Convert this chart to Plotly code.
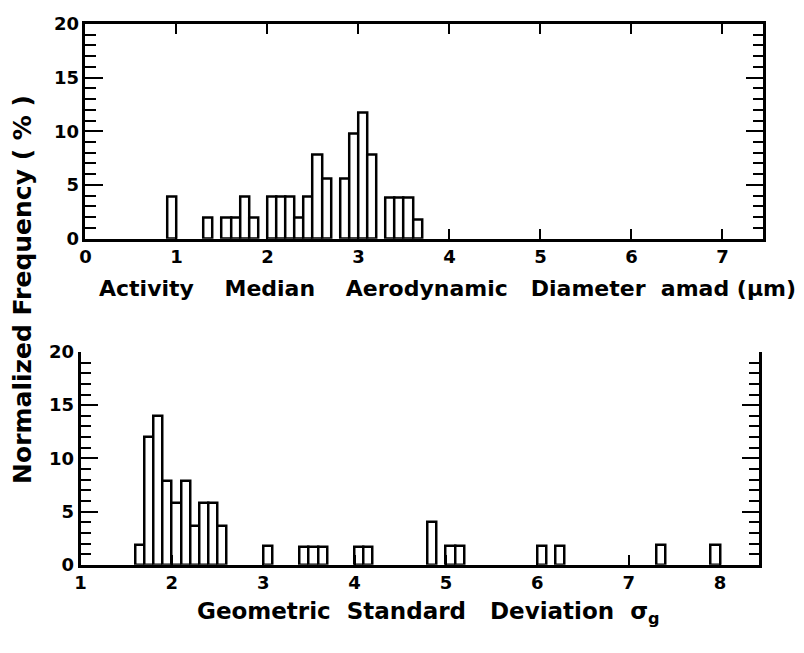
import plotly.graph_objects as go

# ---- data ----
amad_bins = [0.95, 1.35, 1.55, 1.65, 1.75, 1.85, 2.05, 2.15, 2.25, 2.35, 2.45,
             2.55, 2.65, 2.85, 2.95, 3.05, 3.15, 3.35, 3.45, 3.55, 3.65]
amad_freq = [3.9, 1.9, 1.9, 1.9, 3.9, 1.9, 3.9, 3.9, 3.9, 1.9, 3.9,
             7.8, 5.6, 5.6, 9.8, 11.7, 7.8, 3.8, 3.8, 3.8, 1.8]

gsd_bins = [1.65, 1.75, 1.85, 1.95, 2.05, 2.15, 2.25, 2.35, 2.45, 2.55,
            3.05, 3.45, 3.55, 3.65, 4.05, 4.15, 4.85, 5.05, 5.15,
            6.05, 6.25, 7.35, 7.95]
gsd_freq = [1.9, 12.0, 14.0, 7.9, 5.8, 7.9, 3.7, 5.8, 5.8, 3.7,
            1.8, 1.7, 1.7, 1.7, 1.7, 1.7, 4.0, 1.8, 1.8,
            1.8, 1.8, 1.9, 1.9]

amad_ticks = [0, 1, 2, 3, 4, 5, 6, 7]
gsd_ticks = [1, 2, 3, 4, 5, 6, 7, 8]
y_ticks = [0, 5, 10, 15, 20]

BIN_W = 0.1
W, H = 804, 653
OFF_X = 13  # page offset compensation
OFF_Y = 12
FONT = "DejaVu Sans"


def px_x(p):
    return (p - OFF_X) / W


def px_y(p):
    return 1 - (p - OFF_Y) / H


bar_style = dict(marker=dict(color="white", line=dict(color="black", width=2.5)),
                 width=BIN_W, showlegend=False, hoverinfo="x+y")

fig = go.Figure()
fig.add_trace(go.Bar(x=amad_bins, y=amad_freq, xaxis="x", yaxis="y", **bar_style))
fig.add_trace(go.Bar(x=gsd_bins, y=gsd_freq, xaxis="x2", yaxis="y2", **bar_style))

tickfont = dict(family=FONT, size=18, color="black", weight="bold")

common_x = dict(showgrid=False, zeroline=False, linecolor="black", linewidth=2.5,
                ticks="inside", ticklen=10, tickwidth=2, tickcolor="black",
                tickfont=tickfont, fixedrange=True)
common_y = dict(showgrid=False, zeroline=False, linecolor="black", linewidth=2.5,
                ticks="inside", ticklen=18, tickwidth=2, tickcolor="black",
                tickvals=y_ticks, ticktext=[str(v) for v in y_ticks],
                range=[0, 20], tickfont=tickfont, fixedrange=True,
                minor=dict(dtick=1, ticklen=11, tickwidth=2, tickcolor="black", ticks="inside"))

fig.update_layout(
    width=W, height=H,
    margin=dict(l=0, r=0, t=0, b=0),
    paper_bgcolor="white", plot_bgcolor="white",
    bargap=0,
    xaxis=dict(domain=[px_x(85), px_x(768)], range=[0, 7.45], anchor="y",
               tickvals=amad_ticks, ticktext=[str(v) for v in amad_ticks],
               mirror="allticks", showline=True, **common_x),
    yaxis=dict(domain=[px_y(239), px_y(17)], anchor="x",
               mirror="allticks", showline=True, **common_y),
    xaxis2=dict(domain=[px_x(80), px_x(764)], range=[1, 8.43], anchor="y2",
                tickvals=gsd_ticks, ticktext=[str(v) for v in gsd_ticks],
                mirror=False, showline=True, **common_x),
    yaxis2=dict(domain=[px_y(576), px_y(356)], anchor="x2",
                mirror="allticks", showline=True, **common_y),
)

n = "&nbsp;"

fig.add_annotation(text="Activity" + n * 4 + "Median" + n * 4 + "Aerodynamic" + n * 3 +
                   "Diameter" + n * 2 + "amad" + n + "(μm)",
                   xref="paper", yref="paper", x=px_x(97), y=px_y(290),
                   xanchor="left", yanchor="middle", showarrow=False,
                   font=dict(family=FONT, size=22, color="black", weight="bold"))
fig.add_annotation(text="Geometric" + n * 2 + "Standard" + n * 3 + "Deviation" + n * 2 +
                   "σ<sub>g</sub>",
                   xref="paper", yref="paper", x=px_x(195), y=px_y(626),
                   xanchor="left", yanchor="middle", showarrow=False,
                   font=dict(family=FONT, size=23, color="black", weight="bold"))
fig.add_annotation(text="Normalized" + n + "Frequency" + n + "(" + n + "%" + n + ")",
                   xref="paper", yref="paper", x=px_x(21), y=px_y(291),
                   xanchor="center", yanchor="middle", textangle=-90,
                   showarrow=False, font=dict(family=FONT, size=25, color="black", weight="bold"))

fig.write_html("out.html")
